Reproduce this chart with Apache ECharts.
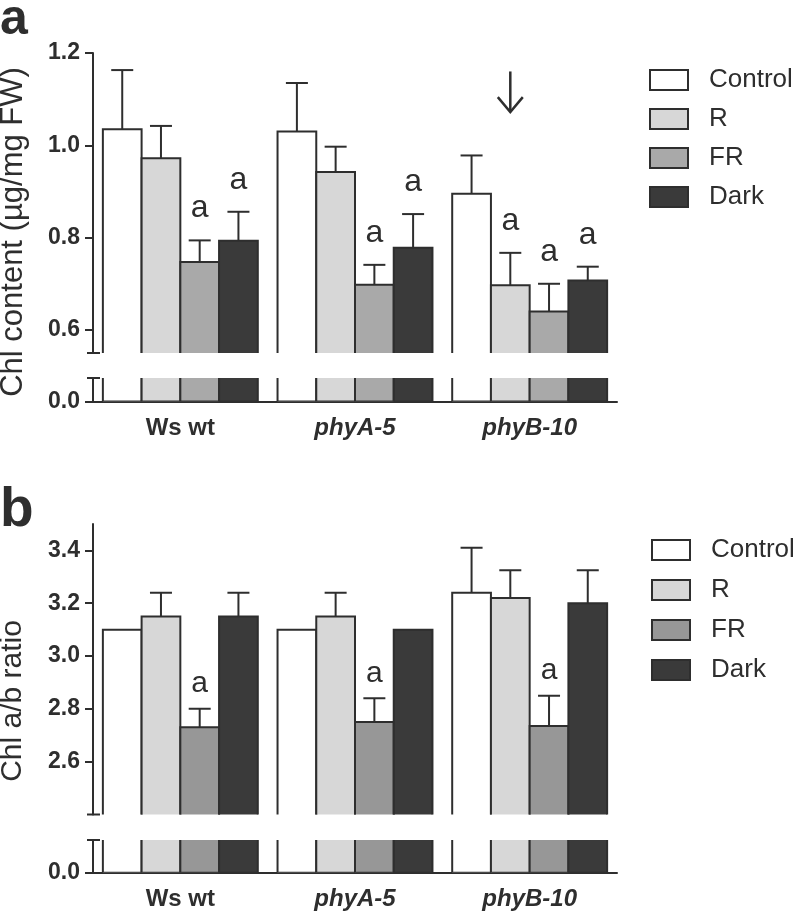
<!DOCTYPE html>
<html><head><meta charset="utf-8">
<script src="https://cdn.jsdelivr.net/npm/echarts@6/dist/echarts.min.js"></script>
<style>html,body{margin:0;padding:0;background:#fff}#c{width:800px;height:915px}</style>
</head><body><div id="c"></div>
<script>
// ---------- data ----------
const categories = ['Ws wt', 'phyA-5', 'phyB-10'];
const treatments = ['Control', 'R', 'FR', 'Dark'];

// panel a: Chl content (µg/mg FW)
const chlControl = [1.035, 1.030, 0.895];
const chlR       = [0.972, 0.942, 0.697];
const chlFR      = [0.747, 0.698, 0.640];
const chlDark    = [0.793, 0.778, 0.707];
const chlControlErr = [0.128, 0.105, 0.083];
const chlRErr       = [0.070, 0.055, 0.070];
const chlFRErr      = [0.047, 0.043, 0.060];
const chlDarkErr    = [0.063, 0.073, 0.030];
const chlControlSig = ['', '', ''];
const chlRSig       = ['', '', 'a'];
const chlFRSig      = ['a', 'a', 'a'];
const chlDarkSig    = ['a', 'a', 'a'];
const chlTicks = [0.6, 0.8, 1.0, 1.2];
const arrowCategory = 'phyB-10';
const arrowTreatment = 'R';
const arrowRange = [1.16, 1.072];

// panel b: Chl a/b ratio
const ratioControl = [3.10, 3.10, 3.24];
const ratioR       = [3.15, 3.15, 3.22];
const ratioFR      = [2.73, 2.75, 2.735];
const ratioDark    = [3.15, 3.10, 3.20];
const ratioControlErr = [0, 0, 0.17];
const ratioRErr       = [0.09, 0.09, 0.105];
const ratioFRErr      = [0.07, 0.09, 0.115];
const ratioDarkErr    = [0.09, 0, 0.125];
const ratioControlSig = ['', '', ''];
const ratioRSig       = ['', '', ''];
const ratioFRSig      = ['a', 'a', 'a'];
const ratioDarkSig    = ['', '', ''];
const ratioTicks = [2.6, 2.8, 3.0, 3.2, 3.4];
const lowerTicks = [0];

// ---------- style ----------
const FONT = '"Liberation Sans", Arial, Helvetica, sans-serif';
const INK = '#2e2e2e';
const colorsA = ['#ffffff', '#d7d7d7', '#a9a9a9', '#3a3a3a'];
const colorsB = ['#ffffff', '#d7d7d7', '#979797', '#3a3a3a'];
const GAP = 0.113;

function barRender(tIndex, fill, errs, sigs, withExtras, sigOffset, sigFont) {
  return function (params, api) {
    const cat = api.value(0), val = api.value(1);
    const band = api.size([1, 0])[0];
    const bw = band * (1 - GAP) / 4;
    const p = api.coord([cat, val]);
    const base = api.coord([cat, 0])[1];
    const left = p[0] - 2 * bw + tIndex * bw;
    const cx = left + bw / 2;
    const children = [{
      type: 'rect',
      shape: { x: left, y: p[1], width: bw, height: base - p[1] },
      style: { fill: fill, stroke: INK, lineWidth: 2 }
    }];
    if (withExtras) {
      const e = errs[params.dataIndex];
      let topY = p[1];
      if (e > 0) {
        topY = api.coord([cat, val + e])[1];
        children.push({ type: 'line', shape: { x1: cx, y1: p[1], x2: cx, y2: topY }, style: { stroke: INK, lineWidth: 2 } });
        children.push({ type: 'line', shape: { x1: cx - 11, y1: topY, x2: cx + 11, y2: topY }, style: { stroke: INK, lineWidth: 2 } });
      }
      const s = sigs[params.dataIndex];
      if (s) {
        children.push({ type: 'text', x: cx, y: topY - sigOffset,
          style: { text: s, fill: INK, font: sigFont, align: 'center', verticalAlign: 'middle' } });
      }
    }
    return { type: 'group', children: children };
  };
}

function seriesFor(gridIdx, vals, errs, sigs, colors, upper, sigOffset, sigFont) {
  return treatments.map((t, i) => ({
    type: 'custom', name: t, xAxisIndex: gridIdx, yAxisIndex: gridIdx, clip: true,
    itemStyle: { color: colors[i], borderColor: INK, borderWidth: 2 },
    data: vals[i].map((v, k) => [k, v]),
    encode: { x: 0, y: 1 },
    renderItem: barRender(i, colors[i], errs[i], sigs[i], upper, sigOffset, sigFont)
  }));
}

function capSeries(gridIdx, atBottom) {
  return {
    type: 'custom', name: 'break' + gridIdx, xAxisIndex: gridIdx, yAxisIndex: gridIdx, clip: false,
    data: [[0, 0]], silent: true,
    renderItem: function (params) {
      const cs = params.coordSys;
      const y = atBottom ? cs.y + cs.height : cs.y;
      return { type: 'line', shape: { x1: cs.x - 6, y1: y, x2: cs.x + 7, y2: y }, style: { stroke: INK, lineWidth: 2 } };
    }
  };
}

const arrowSeries = {
  type: 'custom', name: 'arrow', xAxisIndex: 0, yAxisIndex: 0, clip: false, silent: true,
  data: [[categories.indexOf(arrowCategory), arrowRange[0], arrowRange[1]]],
  renderItem: function (params, api) {
    const cat = api.value(0);
    const band = api.size([1, 0])[0];
    const bw = band * (1 - GAP) / 4;
    const ti = treatments.indexOf(arrowTreatment);
    const c = api.coord([cat, api.value(1)]);
    const x = c[0] - 2 * bw + ti * bw + bw / 2;
    const y1 = c[1];
    const y2 = api.coord([cat, api.value(2)])[1];
    return { type: 'group', children: [
      { type: 'line', shape: { x1: x, y1: y1, x2: x, y2: y2 }, style: { stroke: INK, lineWidth: 2.5 } },
      { type: 'polyline', shape: { points: [[x - 12.5, y2 - 15], [x, y2], [x + 12.5, y2 - 15]] }, style: { stroke: INK, lineWidth: 2.5, fill: null } }
    ] };
  }
};

const gridLeft = 93, gridWidth = 524;
const grids = [
  { left: gridLeft, width: gridWidth, top: 53, height: 300 },
  { left: gridLeft, width: gridWidth, top: 378, height: 23.5 },
  { left: gridLeft, width: gridWidth, top: 524, height: 290.5 },
  { left: gridLeft, width: gridWidth, top: 840, height: 32.7 }
];

const axisLineStyle = { lineStyle: { color: INK, width: 2 } };
const tickLabel = { fontFamily: FONT, fontWeight: 'bold', fontSize: 23, color: INK, margin: 13 };

function xAxisFor(i, show) {
  return {
    type: 'category', gridIndex: i, data: categories, show: show,
    axisLine: axisLineStyle, axisTick: { show: false },
    axisLabel: {
      margin: 15,
      formatter: v => (v === 'Ws wt' ? '{n|' + v + '}' : '{i|' + v + '}'),
      rich: {
        n: { fontFamily: FONT, fontWeight: 'bold', fontSize: 24, color: INK },
        i: { fontFamily: FONT, fontWeight: 'bold', fontStyle: 'italic', fontSize: 24, color: INK }
      }
    }
  };
}
function yAxisFor(i, min, max, ticks) {
  return {
    type: 'value', gridIndex: i, min: min, max: max,
    axisLine: { show: true, lineStyle: { color: INK, width: 2 } },
    axisTick: { show: true, length: 8, lineStyle: { color: INK, width: 2 }, customValues: ticks },
    axisLabel: Object.assign({ customValues: ticks, formatter: v => v.toFixed(1) }, tickLabel),
    splitLine: { show: false }
  };
}

function legendFor(left, top, gap, colors) {
  return {
    orient: 'vertical', left: left, top: top, padding: 0, itemWidth: 38, itemHeight: 20, itemGap: gap,
    icon: 'rect', selectedMode: false,
    data: treatments.map((t, i) => ({ name: t, itemStyle: { color: colors[i], borderColor: INK, borderWidth: 2 } })),
    textStyle: { fontFamily: FONT, fontSize: 26, color: INK, lineHeight: 20, padding: [0, 0, 0, 16] }
  };
}

const option = {
  animation: false,
  backgroundColor: '#ffffff',
  grid: grids,
  xAxis: [xAxisFor(0, false), xAxisFor(1, true), xAxisFor(2, false), xAxisFor(3, true)],
  yAxis: [
    yAxisFor(0, 0.55, 1.2, chlTicks),
    yAxisFor(1, 0, 0.05, lowerTicks),
    yAxisFor(2, 2.4, 3.5, ratioTicks),
    yAxisFor(3, 0, 0.1, lowerTicks)
  ],
  legend: [legendFor(649, 67, 13, colorsA), legendFor(651, 537, 14, colorsB)],
  graphic: [
    { type: 'text', x: 0, y: 20, style: { text: 'a', font: 'bold 50px ' + FONT, fill: INK, align: 'left', verticalAlign: 'middle' } },
    { type: 'text', x: 0, y: 511, style: { text: 'b', font: 'bold 55px ' + FONT, fill: INK, align: 'left', verticalAlign: 'middle' } },
    { type: 'text', x: 13, y: 232, rotation: Math.PI / 2, style: { text: 'Chl content (µg/mg FW)', font: '31px ' + FONT, fill: INK, align: 'center', verticalAlign: 'middle' } },
    { type: 'text', x: 13, y: 701, rotation: Math.PI / 2, style: { text: 'Chl a/b ratio', font: '30px ' + FONT, fill: INK, align: 'center', verticalAlign: 'middle' } }
  ],
  series: [].concat(
    seriesFor(0, [chlControl, chlR, chlFR, chlDark], [chlControlErr, chlRErr, chlFRErr, chlDarkErr],
      [chlControlSig, chlRSig, chlFRSig, chlDarkSig], colorsA, true, 32, '32px ' + FONT),
    seriesFor(1, [chlControl, chlR, chlFR, chlDark], [chlControlErr, chlRErr, chlFRErr, chlDarkErr],
      [chlControlSig, chlRSig, chlFRSig, chlDarkSig], colorsA, false, 0, ''),
    seriesFor(2, [ratioControl, ratioR, ratioFR, ratioDark], [ratioControlErr, ratioRErr, ratioFRErr, ratioDarkErr],
      [ratioControlSig, ratioRSig, ratioFRSig, ratioDarkSig], colorsB, true, 25, '30px ' + FONT),
    seriesFor(3, [ratioControl, ratioR, ratioFR, ratioDark], [ratioControlErr, ratioRErr, ratioFRErr, ratioDarkErr],
      [ratioControlSig, ratioRSig, ratioFRSig, ratioDarkSig], colorsB, false, 0, ''),
    [capSeries(0, true), capSeries(1, false), capSeries(2, true), capSeries(3, false), arrowSeries]
  )
};

const chart = echarts.init(document.getElementById('c'), null, { renderer: 'canvas' });
chart.setOption(option);
</script>
</body></html>
